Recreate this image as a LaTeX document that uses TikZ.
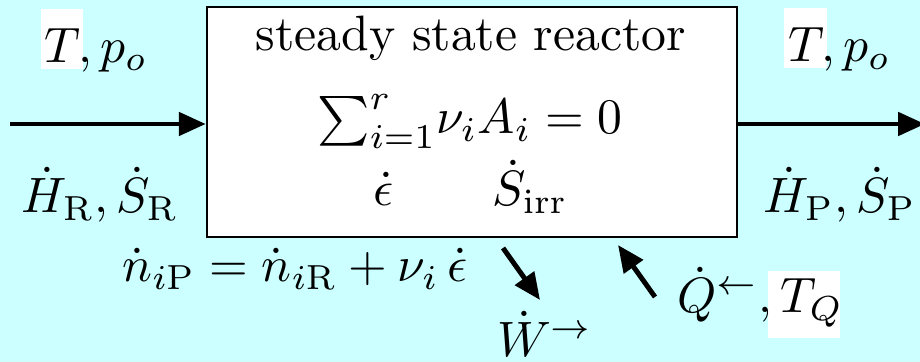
\documentclass[tikz,border=0pt]{standalone}
\usetikzlibrary{arrows.meta,fit}
\definecolor{bgc}{RGB}{204,255,255}
\begin{document}
\begin{tikzpicture}[x=0.2012pt,y=-0.2012pt,
  flow/.style={line width=1pt,-{Triangle[length=5.4pt,width=4.6pt]}},
  lbl/.style={inner sep=0pt,anchor=base},
  hl/.style={fill=white,draw=none}]
\clip (0,0) rectangle (920,362);
\fill[bgc] (0,0) rectangle (920,362);
% reactor box
\coordinate (bnw) at (207,7);
\coordinate (bse) at (737,237);
\node[fit=(bnw)(bse),inner sep=0pt,draw,line width=0.5pt,fill=white] (box) {};
\node[lbl] (title) at (471,51) {steady state reactor};
\node[lbl] (reac) at (470,134) {${\sum_{i=1}^r}\nu_iA_i=0$};
\node[lbl] (eps) at (384,206) {$\dot\epsilon$};
\node[lbl] (sirr) at (530,206) {$\dot S_{\rm irr}$};
% inlet / outlet
\coordinate (inL) at (10,124);
\coordinate (outR) at (925,124);
\draw[flow] (inL) -- (inL -| box.west);
\draw[flow] (outR -| box.east) -- (outR);
\fill[hl] (41,9) rectangle (83,69);
\node[lbl,anchor=base west] (tin) at (44,63) {$T, p_o$};
\fill[hl] (784,8) rectangle (827,68);
\node[lbl,anchor=base west] (tout) at (787,62) {$T, p_o$};
\node[lbl] (hr) at (100,213) {$\dot H_{\rm R}, \dot S_{\rm R}$};
\node[lbl] (hp) at (840,213) {$\dot H_{\rm P}, \dot S_{\rm P}$};
\node[lbl] (bal) at (295,282) {$\dot n_{i\rm P}=\dot n_{i\rm R}+\nu_i\,\dot\epsilon$};
% work and heat
\coordinate (ws) at (503,248);
\coordinate (we) at (540,300);
\draw[flow] (ws) -- (we);
\node[lbl] (w) at (545,357) {$\dot W^{\rightarrow}$};
\coordinate (qs) at (655,297);
\coordinate (qe) at (618,245);
\draw[flow] (qs) -- (qe);
\fill[hl] (768,271) rectangle (840,338);
\node[lbl,anchor=base west] (q) at (676,313) {$\dot Q^{\leftarrow}, T_Q$};
\end{tikzpicture}
\end{document}
